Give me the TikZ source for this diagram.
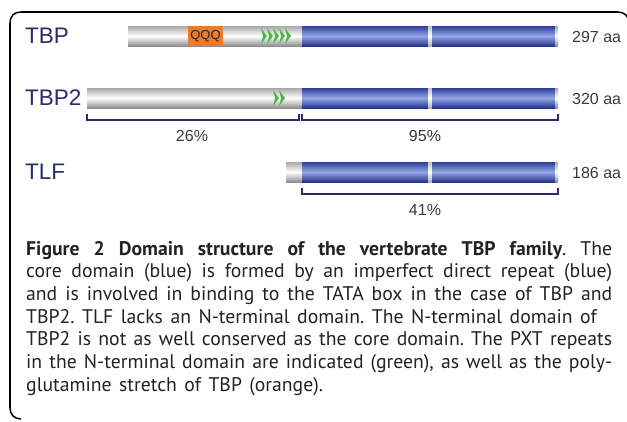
\documentclass[tikz,border=0pt]{standalone}
\usepackage{fontspec}
\setmainfont{PT Sans}
\newfontfamily\arialf{Liberation Sans}
\usetikzlibrary{calc}
\definecolor{navy}{HTML}{2B2A6E}
\definecolor{dgray}{HTML}{3A3A3A}
\definecolor{gtop}{HTML}{A8A8A8}
\definecolor{gbot}{HTML}{8E8E8E}
\definecolor{btop}{HTML}{2E3C98}
\definecolor{bmid}{HTML}{93A8E8}
\definecolor{bbot}{HTML}{26318A}
\definecolor{qorange}{HTML}{EE7A2C}
\definecolor{pxtgreen}{HTML}{4DB847}
\definecolor{captext}{HTML}{222222}
\newcommand\mycapfont{\fontsize{19.7}{19.7}\selectfont\spaceskip=7.5pt plus 10pt minus 1pt\relax}
\begin{document}
\frenchspacing
\begin{tikzpicture}[x=1pt,y=-1pt,
  graybar/.style={top color=gtop, bottom color=gbot, middle color=white, inner sep=0pt, outer sep=0pt, anchor=west, minimum height=20pt},
  bluebar/.style={top color=btop, bottom color=bbot, middle color=bmid, inner sep=0pt, outer sep=0pt, anchor=west, minimum height=20pt},
  gapbar/.style={top color=gtop!70, bottom color=gbot!70, middle color=white, inner sep=0pt, outer sep=0pt, anchor=west, minimum height=20pt, minimum width=4pt},
  capbar/.style={top color=gtop, bottom color=gbot, middle color=white, inner sep=0pt, outer sep=0pt, anchor=east, minimum height=20pt, minimum width=3pt},
  qbox/.style={fill=qorange, inner sep=0pt, outer sep=0pt, anchor=west, minimum height=20pt, minimum width=35pt, font=\arialf\fontsize{13}{13}\selectfont, text=black!85},
  protlabel/.style={font=\arialf\fontsize{22.5}{22.5}\selectfont, text=navy, anchor=west, inner sep=0pt},
  aalabel/.style={font=\arialf\fontsize{16}{16}\selectfont, text=dgray, anchor=west, inner sep=0pt},
  pctlabel/.style={font=\arialf\fontsize{16}{16}\selectfont, text=dgray, inner sep=0pt},
  bracket/.style={draw=navy, line width=1.4pt},
  pxt/.style={fill=pxtgreen},
  capline/.style={anchor=base west, inner sep=0pt, text=captext, font=\mycapfont},
  frameline/.style={draw=black, line width=1.5pt},
  framebar/.style={fill=black}
]
\useasboundingbox (0,0) rectangle (627,421);

% frame
\coordinate (f1) at (10,408);
\coordinate (f2) at (10,23);
\coordinate (f3) at (21,12);
\coordinate (f4) at (618,12);
\coordinate (f5) at (629,23);
\coordinate (f6) at (21,419);
\fill[framebar] (9.25,23) rectangle (10.75,408);
\fill[framebar] (21,11.25) rectangle (618,12.75);
\draw[frameline] (f1) .. controls (10,414) and (14,419) .. (f6);
\draw[frameline] (f2) .. controls (10,16) and (14,12) .. (f3);
\draw[frameline] (f4) .. controls (624,12) and (629,16) .. (f5);

% TBP
\node[protlabel] (tbpL) at (25,36) {TBP};
\node[graybar, minimum width=174pt] (tbpN) at (128,36) {};
\node[qbox] (tbpQ) at (188,36) {QQQ};
\foreach \x in {261,267,...,285} \fill[pxt] (\x,28) -- ++(6,8) -- ++(-6,8) -- ++(2,-8) -- cycle;
\node[bluebar, minimum width=126pt] (tbpC1) at (302,36) {};
\node[gapbar] (tbpG) at (428,36) {};
\node[bluebar, minimum width=123pt] (tbpC2) at (432,36) {};
\node[capbar] (tbpE) at (558,36) {};
\node[aalabel] (tbpA) at (572,37) {297 aa};

% TBP2
\node[protlabel] (tbp2L) at (25,98) {TBP2};
\node[graybar, minimum width=215pt] (tbp2N) at (87,98) {};
\foreach \x in {273,279} \fill[pxt] (\x,90) -- ++(6,8) -- ++(-6,8) -- ++(2,-8) -- cycle;
\node[bluebar, minimum width=126pt] (tbp2C1) at (302,98) {};
\node[gapbar] (tbp2G) at (428,98) {};
\node[bluebar, minimum width=123pt] (tbp2C2) at (432,98) {};
\node[capbar] (tbp2E) at (558,98) {};
\node[aalabel] (tbp2A) at (572,99) {320 aa};

\coordinate (b1a) at (87,120);
\coordinate (b1b) at (299,120);
\coordinate (b2a) at (302,120);
\coordinate (b2b) at (558,120);
\draw[bracket] ($(b1a)+(0,-6)$) -- (b1a) -- (b1b) -- ++(0,-6);
\draw[bracket] ($(b2a)+(0,-6)$) -- (b2a) -- (b2b) -- ++(0,-6);
\node[pctlabel] (p26) at (192,136) {26\%};
\node[pctlabel] (p95) at (425,136) {95\%};

% TLF
\node[protlabel] (tlfL) at (25,172) {TLF};
\node[graybar, minimum width=16pt] (tlfN) at (286,172) {};
\node[bluebar, minimum width=126pt] (tlfC1) at (302,172) {};
\node[gapbar] (tlfG) at (428,172) {};
\node[bluebar, minimum width=123pt] (tlfC2) at (432,172) {};
\node[capbar] (tlfE) at (558,172) {};
\node[aalabel] (tlfA) at (572,173) {186 aa};
\coordinate (b3a) at (302,194);
\coordinate (b3b) at (558,194);
\draw[bracket] ($(b3a)+(0,-6)$) -- (b3a) -- (b3b) -- ++(0,-6);
\node[pctlabel] (p41) at (425,210) {41\%};

% caption
\node[capline] (c1) at (26,255) {\makebox[586pt][s]{\textbf{Figure 2 Domain structure of the vertebrate TBP family}. The}};
\node[capline] (c2) at (26,277.7) {\makebox[586pt][s]{core domain (blue) is formed by an imperfect direct repeat (blue)}};
\node[capline] (c3) at (26,300.3) {\makebox[586pt][s]{and is involved in binding to the TATA box in the case of TBP and}};
\node[capline] (c4) at (26,323) {TBP2. TLF lacks an N-terminal domain. The N-terminal domain of};
\node[capline] (c5) at (26,345.7) {\makebox[586pt][s]{TBP2 is not as well conserved as the core domain. The PXT repeats}};
\node[capline] (c6) at (26,368.3) {\makebox[586pt][s]{in the N-terminal domain are indicated (green), as well as the poly-}};
\node[capline] (c7) at (26,391) {glutamine stretch of TBP (orange).};
\end{tikzpicture}
\end{document}
